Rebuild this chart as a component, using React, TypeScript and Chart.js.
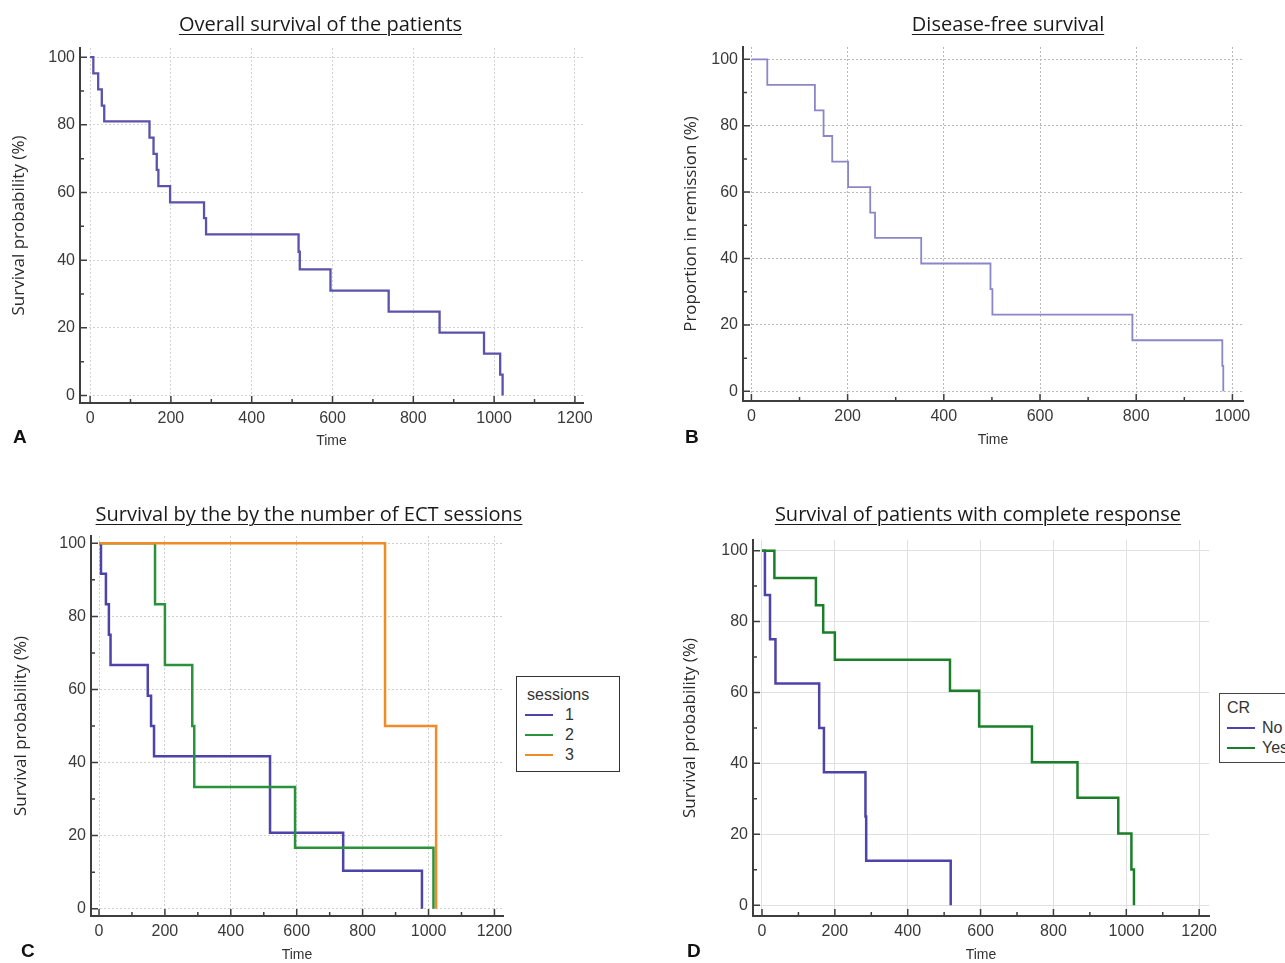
import React, { useEffect, useRef } from 'react';
import { Chart, registerables } from 'chart.js';

Chart.register(...registerables);

// ---------------- data ----------------
// A: overall survival
const overallTime = [0, 8, 20, 29, 35, 147, 157, 165, 169, 198, 282, 287, 516, 519, 595, 739, 865, 975, 1015, 1021];
const overallSurv = [100, 95.2, 90.5, 85.7, 81.0, 76.2, 71.4, 66.7, 61.9, 57.1, 52.4, 47.6, 42.5, 37.3, 31.0, 24.8, 18.6, 12.4, 6.2, 0];

// B: disease-free survival
const dfsTime = [0, 33, 132, 150, 168, 201, 247, 257, 353, 497, 501, 792, 979, 981];
const dfsSurv = [100, 92.3, 84.6, 76.9, 69.2, 61.5, 53.8, 46.2, 38.5, 30.8, 23.1, 15.4, 7.7, 0];

// C: by number of ECT sessions
const sessionLabels = ['1', '2', '3'];
const session1Time = [0, 6, 21, 30, 35, 148, 158, 167, 519, 741, 980];
const session1Surv = [100, 91.7, 83.3, 75, 66.7, 58.3, 50, 41.7, 20.8, 10.4, 0];
const session2Time = [0, 170, 200, 283, 289, 595, 1015];
const session2Surv = [100, 83.3, 66.7, 50, 33.3, 16.7, 0];
const session3Time = [0, 868, 1023];
const session3Surv = [100, 50, 0];

// D: by complete response
const crLabels = ['No', 'Yes'];
const crNoTime = [0, 8, 22, 37, 157, 170, 284, 286, 518];
const crNoSurv = [100, 87.5, 75, 62.5, 50, 37.5, 25, 12.5, 0];
const crYesTime = [0, 34, 148, 168, 200, 516, 596, 741, 866, 978, 1014, 1021];
const crYesSurv = [100, 92.3, 84.6, 76.9, 69.2, 60.5, 50.4, 40.3, 30.3, 20.2, 10.1, 0];

// tick spacing
const xMinorStep = 100;
const xMajorStep = 200;
const yMinorStep = 10;
const yMajorStep = 20;

// ---------------- styling ----------------
const PURPLE = '#4d43aa';
const PURPLE_A = '#5a52ab';
const PURPLE_B = '#8a86c8';
const GREEN_C = '#2a923a';
const GREEN_D = '#1b7f2a';
const ORANGE = '#f28a26';
const AXIS = '#3e3e3e';
const TICK_TEXT = '#3a3a3a';

const PAD_TOP = 20;
const PAD_RIGHT = 25;

type Series = { label: string; times: number[]; surv: number[]; color: string; width: number };
type PanelCfg = {
  area: { L: number; T: number; R: number; B: number };
  W: number;
  H: number;
  xMin: number;
  xMax: number;
  yMin: number;
  yMax: number;
  yTitle: string;
  yTitleX: number;
  xTitleY: number;
  gridColor: string;
  gridDash: number[];
  series: Series[];
};

const isMajor = (v: number, step: number) => Math.abs(Math.round(v) % step) === 0;

const inwardTicks = {
  id: 'inwardTicks',
  afterDraw(chart: any, _args: any, opts: any) {
    const { ctx, chartArea: a, scales } = chart;
    ctx.save();
    ctx.strokeStyle = opts.color;
    ctx.lineWidth = opts.width;
    ctx.setLineDash([]);
    ctx.beginPath();
    scales.x.ticks.forEach((t: any) => {
      const px = scales.x.getPixelForValue(t.value);
      const len = isMajor(t.value, xMajorStep) ? opts.major : opts.minor;
      ctx.moveTo(px, a.bottom);
      ctx.lineTo(px, a.bottom - len);
    });
    scales.y.ticks.forEach((t: any) => {
      const py = scales.y.getPixelForValue(t.value);
      const len = isMajor(t.value, yMajorStep) ? opts.major : opts.minor;
      ctx.moveTo(a.left, py);
      ctx.lineTo(a.left + len, py);
    });
    ctx.stroke();
    ctx.restore();
  },
};

function geom(c: PanelCfg) {
  const left = c.area.L - c.W;
  const top = c.area.T - PAD_TOP;
  const width = c.area.R + PAD_RIGHT - left;
  const height = c.area.B + c.H - top;
  return { left, top, width, height };
}

function Panel({ cfg }: { cfg: PanelCfg }) {
  const ref = useRef<HTMLCanvasElement>(null);
  const g = geom(cfg);
  useEffect(() => {
    if (!ref.current) return;
    const yTitleSize = 17;
    const xTitleSize = 14;
    const yLh = yTitleSize * 1.2;
    const xLh = xTitleSize * 1.2;
    const yTitlePad = cfg.yTitleX - g.left - yLh / 2;
    const xTitlePad = g.height - xLh / 2 - (cfg.xTitleY - g.top);
    const gridColor = (ctxs: any, step: number) =>
      ctxs.tick && isMajor(ctxs.tick.value, step) ? cfg.gridColor : 'rgba(0,0,0,0)';
    const chart = new Chart(ref.current, {
      type: 'line',
      data: {
        datasets: cfg.series.map((s) => ({
          label: s.label,
          data: s.times.map((t, i) => ({ x: t, y: s.surv[i] })),
          borderColor: s.color,
          backgroundColor: s.color,
          borderWidth: s.width,
          stepped: 'before' as const,
          pointRadius: 0,
          fill: false,
          borderJoinStyle: 'miter' as const,
          borderCapStyle: 'butt' as const,
        })),
      },
      options: {
        animation: false,
        responsive: false,
        maintainAspectRatio: false,
        layout: { padding: { left: 0, top: PAD_TOP, right: PAD_RIGHT, bottom: 0 } },
        plugins: {
          legend: { display: false },
          tooltip: { enabled: false },
          inwardTicks: { color: AXIS, width: 1.5, major: 7, minor: 4 },
        } as any,
        scales: {
          x: {
            type: 'linear',
            min: cfg.xMin,
            max: cfg.xMax,
            afterFit: (s: any) => {
              s.height = cfg.H;
            },
            ticks: {
              stepSize: xMinorStep,
              includeBounds: false,
              autoSkip: false,
              maxRotation: 0,
              padding: 6,
              color: TICK_TEXT,
              font: { family: 'Liberation Sans', size: 16 },
              callback: (v: any) => (isMajor(v, xMajorStep) ? String(Math.round(v)) : ''),
            },
            grid: {
              drawTicks: false,
              color: (c: any) => gridColor(c, xMajorStep),
              lineWidth: 1,
            },
            border: { display: true, color: AXIS, width: 2, dash: cfg.gridDash },
            title: {
              display: true,
              text: 'Time',
              color: '#333',
              font: { family: 'Liberation Sans', size: xTitleSize },
              padding: { top: 0, bottom: xTitlePad },
            },
          },
          y: {
            type: 'linear',
            min: cfg.yMin,
            max: cfg.yMax,
            afterFit: (s: any) => {
              s.width = cfg.W;
            },
            ticks: {
              stepSize: yMinorStep,
              includeBounds: false,
              autoSkip: false,
              padding: 5,
              color: TICK_TEXT,
              font: { family: 'Liberation Sans', size: 16 },
              callback: (v: any) => (isMajor(v, yMajorStep) ? String(Math.round(v)) : ''),
            },
            grid: {
              drawTicks: false,
              color: (c: any) => gridColor(c, yMajorStep),
              lineWidth: 1,
            },
            border: { display: true, color: AXIS, width: 2, dash: cfg.gridDash },
            title: {
              display: true,
              text: cfg.yTitle,
              color: '#2a2a2a',
              font: { family: 'Open Sans', size: yTitleSize },
              padding: { top: yTitlePad, bottom: 0 },
            },
          },
        },
      } as any,
      plugins: [inwardTicks],
    });
    return () => chart.destroy();
  }, []);
  return (
    <canvas
      ref={ref}
      width={g.width}
      height={g.height}
      style={{ position: 'absolute', left: g.left, top: g.top, width: g.width, height: g.height }}
    />
  );
}

const panelA: PanelCfg = {
  area: { L: 80, T: 48, R: 583, B: 403 },
  W: 80,
  H: 56,
  xMin: -25,
  xMax: 1220,
  yMin: -2.2,
  yMax: 102.7,
  yTitle: 'Survival probability (%)',
  yTitleX: 19,
  xTitleY: 441,
  gridColor: '#d2d2d2',
  gridDash: [2, 2],
  series: [{ label: 'Overall', times: overallTime, surv: overallSurv, color: PURPLE_A, width: 2.3 }],
};

const panelB: PanelCfg = {
  area: { L: 743, T: 47, R: 1243, B: 401 },
  W: 80,
  H: 56,
  xMin: -17.5,
  xMax: 1022,
  yMin: -2.9,
  yMax: 103.7,
  yTitle: 'Proportion in remission (%)',
  yTitleX: 691,
  xTitleY: 440,
  gridColor: '#b8b8b8',
  gridDash: [2, 2],
  series: [{ label: 'Disease-free', times: dfsTime, surv: dfsSurv, color: PURPLE_B, width: 1.8 }],
};

const panelC: PanelCfg = {
  area: { L: 91, T: 536, R: 503, B: 916 },
  W: 85,
  H: 56,
  xMin: -24.3,
  xMax: 1226,
  yMin: -2,
  yMax: 102,
  yTitle: 'Survival probability (%)',
  yTitleX: 21,
  xTitleY: 955,
  gridColor: '#d0d0d0',
  gridDash: [2, 2],
  series: [
    { label: sessionLabels[2], times: session3Time, surv: session3Surv, color: ORANGE, width: 2.5 },
    { label: sessionLabels[1], times: session2Time, surv: session2Surv, color: GREEN_C, width: 2.5 },
    { label: sessionLabels[0], times: session1Time, surv: session1Surv, color: PURPLE, width: 2.5 },
  ],
};

const panelD: PanelCfg = {
  area: { L: 753, T: 540, R: 1209, B: 916 },
  W: 85,
  H: 56,
  xMin: -24.7,
  xMax: 1227,
  yMin: -3.05,
  yMax: 103,
  yTitle: 'Survival probability (%)',
  yTitleX: 690,
  xTitleY: 955,
  gridColor: '#e0e0e0',
  gridDash: [],
  series: [
    { label: crLabels[1], times: crYesTime, surv: crYesSurv, color: GREEN_D, width: 2.5 },
    { label: crLabels[0], times: crNoTime, surv: crNoSurv, color: PURPLE, width: 2.5 },
  ],
};

const titleStyle = (cx: number, top: number): React.CSSProperties => ({
  position: 'absolute',
  left: cx,
  top,
  transform: 'translateX(-50%)',
  whiteSpace: 'nowrap',
  fontFamily: 'Open Sans',
  fontSize: 20,
  lineHeight: '24px',
  color: '#1a1a1a',
  textDecoration: 'underline',
  textDecorationThickness: '1px',
  textUnderlineOffset: '3px',
  zIndex: 2,
});

const letterStyle = (left: number, top: number): React.CSSProperties => ({
  position: 'absolute',
  left,
  top,
  fontFamily: 'Liberation Sans',
  fontWeight: 'bold',
  fontSize: 19,
  lineHeight: '19px',
  color: '#111',
});

const legendText: React.CSSProperties = {
  position: 'absolute',
  fontFamily: 'Liberation Sans',
  fontSize: 16,
  lineHeight: '18px',
  color: '#333',
  whiteSpace: 'nowrap',
};

function LegendRow({ color, label, y, lineX, textX }: { color: string; label: string; y: number; lineX: number; textX: number }) {
  return (
    <>
      <div style={{ position: 'absolute', left: lineX, top: y - 1, width: 28, height: 2, background: color }} />
      <div style={{ ...legendText, left: textX, top: y - 9 }}>{label}</div>
    </>
  );
}

export default function App() {
  const sessionColors = [PURPLE, GREEN_C, ORANGE];
  const crColors = [PURPLE, GREEN_D];
  return (
    <div
      style={{
        position: 'absolute',
        left: 0,
        top: 0,
        width: 1285,
        height: 963,
        overflow: 'hidden',
        background: '#fff',
      }}
    >
      <Panel cfg={panelA} />
      <Panel cfg={panelB} />
      <Panel cfg={panelC} />
      <Panel cfg={panelD} />

      <div style={titleStyle(320.5, 12)}>Overall survival of the patients</div>
      <div style={titleStyle(1008, 12)}>Disease-free survival</div>
      <div style={titleStyle(309, 502)}>Survival by the by the number of ECT sessions</div>
      <div style={titleStyle(978, 502)}>Survival of patients with complete response</div>

      <div style={letterStyle(13, 427)}>A</div>
      <div style={letterStyle(685, 427)}>B</div>
      <div style={letterStyle(21, 941)}>C</div>
      <div style={letterStyle(687, 941)}>D</div>

      {/* legend C */}
      <div
        style={{
          position: 'absolute',
          left: 516,
          top: 676,
          width: 102,
          height: 94,
          border: '1.5px solid #333',
          background: '#fff',
          zIndex: 1,
        }}
      />
      <div style={{ ...legendText, left: 527, top: 686, zIndex: 2 }}>sessions</div>
      <div style={{ position: 'absolute', left: 0, top: 0, zIndex: 2 }}>
        {sessionLabels.map((l, i) => (
          <LegendRow key={l} color={sessionColors[i]} label={l} y={715 + i * 20} lineX={525} textX={565} />
        ))}
      </div>

      {/* legend D */}
      <div
        style={{
          position: 'absolute',
          left: 1219,
          top: 693,
          width: 90,
          height: 68,
          border: '1.5px solid #444',
          background: '#fff',
          zIndex: 1,
        }}
      />
      <div style={{ ...legendText, left: 1227, top: 699, zIndex: 2 }}>CR</div>
      <div style={{ position: 'absolute', left: 0, top: 0, zIndex: 2 }}>
        {crLabels.map((l, i) => (
          <LegendRow key={l} color={crColors[i]} label={l} y={728 + i * 20} lineX={1227} textX={1262} />
        ))}
      </div>
    </div>
  );
}
